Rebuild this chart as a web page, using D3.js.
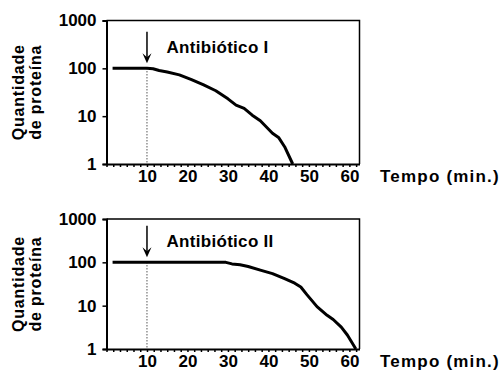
<!DOCTYPE html>
<html>
<head>
<meta charset="utf-8">
<script src="https://cdn.jsdelivr.net/npm/d3@7"></script>
<style>
  body { margin: 0; background: #fff; }
  text { font-family: "Liberation Sans", Arial, sans-serif; font-weight: bold; fill: #000; }
</style>
</head>
<body>
<svg id="chart" width="502" height="370"></svg>
<script>
// values
const timeTicks = [10, 20, 30, 40, 50, 60];
const proteinTicks = [1, 10, 100, 1000];
const antibioticLabels = ["Antibiótico I", "Antibiótico II"];
const antibioticTime = 10;

const timeI    = [1.5, 10, 11.5, 13, 15, 18, 21, 24, 27, 30, 32, 34, 36, 38, 41, 42.5, 44, 46];
const proteinI = [100, 100, 98, 90, 84, 73, 58, 45, 34, 23, 17, 14.5, 10.5, 8, 4.4, 3.6, 2.3, 1];

const timeII    = [1.5, 10, 29.5, 31, 33, 35, 38, 41, 44, 46.5, 48, 49.5, 52, 54.5, 56, 58, 59.5, 61.6];
const proteinII = [100, 100, 100, 92, 88, 80, 66, 55, 42, 33, 27, 18, 9.5, 6, 4.8, 3.2, 2.1, 1];

const svg = d3.select("#chart");

const x = d3.scaleLinear().domain([0, 62.5]).range([106.5, 359.5]);

// each panel: vertical extent on the page
const panels = [
    {top: 20.5, bottom: 164, time: timeI, protein: proteinI, label: antibioticLabels[0]},
    {top: 219, bottom: 349, time: timeII, protein: proteinII, label: antibioticLabels[1]}
];

panels.forEach(function(p) {
    const y = d3.scaleLog().domain([1, 1000]).range([p.bottom, p.top]);
    const g = svg.append("g");

    // top + right frame
    g.append("path")
        .attr("d", "M" + x(0) + "," + y(1000) + "H" + x(62.5) + "V" + y(1))
        .attr("fill", "none")
        .attr("stroke", "#000")
        .attr("stroke-width", 1.5);

    // minor x ticks
    const xAxis = d3.axisBottom(x)
        .tickValues(d3.range(0, 62.6, 10 / 6))
        .tickFormat("")
        .tickSize(3)
        .tickSizeOuter(0);
    const gx = g.append("g")
        .attr("transform", "translate(0," + y(1) + ")")
        .call(xAxis);
    gx.select(".domain").attr("stroke-width", 2);
    gx.selectAll(".tick line").attr("stroke-width", 1.5);

    // x labels
    const xLab = d3.axisBottom(x).tickValues(timeTicks).tickSize(0).tickPadding(6);
    const gl = g.append("g")
        .attr("transform", "translate(0," + y(1) + ")")
        .call(xLab);
    gl.select(".domain").remove();
    gl.selectAll("text").style("font-size", "17px").attr("dy", "0.71em");

    g.append("text")
        .attr("x", 380)
        .attr("y", y(1) + 18)
        .style("font-size", "17px")
        .style("letter-spacing", "1.2px")
        .text("Tempo (min.)");

    const yAxis = d3.axisLeft(y)
        .tickValues(proteinTicks)
        .tickFormat(d3.format("d"))
        .tickSize(4)
        .tickPadding(6);
    const gy = g.append("g")
        .attr("transform", "translate(" + x(0) + ",0)")
        .call(yAxis);
    gy.select(".domain").attr("stroke-width", 2);
    gy.selectAll(".tick line").attr("stroke-width", 1.5);
    gy.selectAll("text").style("font-size", "17px");

    // y title
    const midY = (p.top + p.bottom) / 2;
    const yt = g.append("text")
        .attr("transform", "translate(0," + midY + ") rotate(-90)")
        .attr("text-anchor", "middle")
        .style("font-size", "16px")
        .style("letter-spacing", "0.8px");
    yt.append("tspan").attr("x", 0).attr("y", 24).text("Quantidade");
    yt.append("tspan").attr("x", 0).attr("y", 41).text("de proteína");

    // dotted marker at antibiotic time
    g.append("line")
        .attr("x1", x(antibioticTime)).attr("x2", x(antibioticTime))
        .attr("y1", y(100)).attr("y2", y(1))
        .attr("stroke", "#000")
        .attr("stroke-width", 1)
        .attr("stroke-dasharray", "1,2");

    // arrow
    const ax = x(antibioticTime), tip = y(100) - 5;
    g.append("line")
        .attr("x1", ax).attr("x2", ax)
        .attr("y1", tip - 31.5).attr("y2", tip - 4)
        .attr("stroke", "#000")
        .attr("stroke-width", 1.5);
    g.append("path")
        .attr("d", "M" + (ax - 4.5) + "," + (tip - 10) + "L" + ax + "," + tip + "L" + (ax + 4.5) + "," + (tip - 10) + "L" + ax + "," + (tip - 6) + "Z")
        .attr("fill", "#000");

    g.append("text")
        .attr("x", 166.5)
        .attr("y", y(100) - 15)
        .style("font-size", "17px")
        .style("letter-spacing", "0.3px")
        .text(p.label);

    // curve
    const line = d3.line()
        .x(function(d, i) { return x(p.time[i]); })
        .y(function(d) { return y(d); });
    g.append("path")
        .datum(p.protein)
        .attr("d", line)
        .attr("fill", "none")
        .attr("stroke", "#000")
        .attr("stroke-width", 3)
        .attr("stroke-linejoin", "round");
});
</script>
</body>
</html>
